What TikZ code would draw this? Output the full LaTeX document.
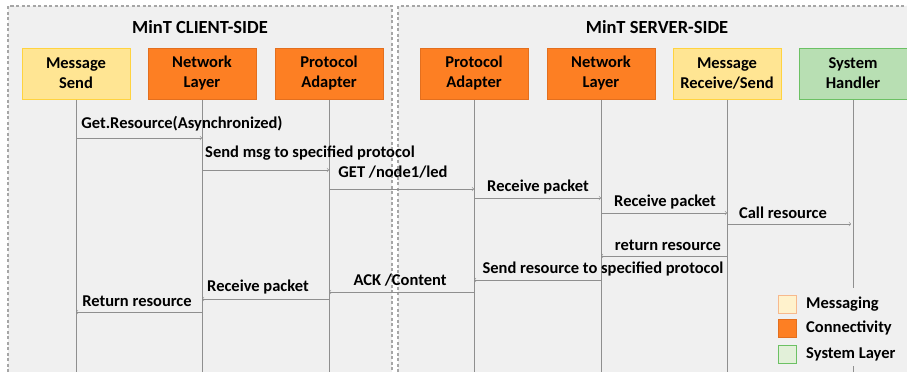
\documentclass[tikz,border=0pt]{standalone}
\usepackage{fontspec}
\setmainfont{Carlito}
\usepackage{tikz}
\usepackage{xcolor}

\definecolor{bg}{HTML}{F0F0F0}
\definecolor{frame}{HTML}{A6A6A6}
\definecolor{wire}{HTML}{8F8F8F}
\definecolor{conn}{HTML}{FD7F23}
\definecolor{connline}{HTML}{E36F1E}
\definecolor{msgfill}{HTML}{FFE593}
\definecolor{msgline}{HTML}{FFD33F}
\definecolor{sysfill}{HTML}{B8DFB3}
\definecolor{sysline}{HTML}{6CC164}
\definecolor{litefill}{HTML}{FFF2CC}
\definecolor{liteline}{HTML}{F7B98D}
\definecolor{greenfill}{HTML}{E2F0D9}

\tikzset{
	box/.style={draw, line width=1pt, minimum width=108pt, minimum height=51pt, align=center, font=\fontsize{16.5}{20}\selectfont\bfseries},
	messaging/.style={box, fill=msgfill, draw=msgline},
	connectivity/.style={box, fill=conn, draw=connline},
	system/.style={box, fill=sysfill, draw=sysline},
	lifeline/.style={draw=wire, line width=0.8pt},
	msg/.style={draw=wire, line width=0.6pt, ->},
	lbl/.style={font=\fontsize{16.5}{19}\selectfont\bfseries, inner sep=0pt},
	side/.style={draw=frame, line width=1.2pt, dash pattern=on 3pt off 2.5pt},
	swatch/.style={draw, line width=0.8pt, minimum size=18pt, inner sep=0pt}
}

\begin{document}
\begin{tikzpicture}[x=1pt, y=-1pt]
	\useasboundingbox (0,0) rectangle (907,372);
	% the two sides
	\fill[bg] (8,6) rectangle (392,372);
	\fill[bg] (398,6) rectangle (907,372);
	\draw[side] (8,372) -- (8,6) -- (392,6) -- (392,372);
	\draw[side] (398,372) -- (398,6) -- (907,6);
	\node[font=\fontsize{18.5}{22}\selectfont\bfseries] (client) at (200,27) {MinT CLIENT-SIDE};
	\node[font=\fontsize{18.5}{22}\selectfont\bfseries] (server) at (657,27) {MinT SERVER-SIDE};

	% participants
	\node[messaging] (cms) at (76,73.5) {Message\\Send};
	\node[connectivity] (cnl) at (202,73.5) {Network\\Layer};
	\node[connectivity] (cpa) at (329,73.5) {Protocol\\Adapter};
	\node[connectivity] (spa) at (474,73.5) {Protocol\\Adapter};
	\node[connectivity] (snl) at (601,73.5) {Network\\Layer};
	\node[messaging] (smr) at (727,73.5) {Message\\Receive/Send};
	\node[system] (ssh) at (853,73.5) {System\\Handler};

	\foreach \p in {cms,cnl,cpa,spa,snl,smr,ssh} {
		\draw[lifeline] (\p.south) -- (\p.south |- 0,372);
	}

	% messages
	\draw[msg] (cms |- 0,138) -- (cnl |- 0,138);
	\node[lbl] (m1) at (182,124) {Get.Resource(Asynchronized)};
	\draw[msg] (cnl |- 0,170) -- (cpa |- 0,170);
	\node[lbl] (m2) at (310,153) {Send msg to specified protocol};
	\draw[msg] (cpa |- 0,189) -- (spa |- 0,189);
	\node[lbl] (m3) at (393,172) {GET /node1/led};
	\draw[msg] (spa |- 0,198) -- (snl |- 0,198);
	\node[lbl] (m4) at (538,187) {Receive packet};
	\draw[msg] (snl |- 0,213) -- (smr |- 0,213);
	\node[lbl] (m5) at (665,202) {Receive packet};
	\draw[msg] (smr |- 0,224) -- ([xshift=-2pt]ssh |- 0,224);
	\node[lbl] (m6) at (783,213) {Call resource};
	\draw[msg] (smr |- 0,256) -- (snl |- 0,256);
	\node[lbl] (m7) at (668,245) {return resource};
	\draw[msg] (snl |- 0,280) -- (spa |- 0,280);
	\node[lbl] (m8) at (603,269) {Send resource to specified protocol};
	\draw[msg] (spa |- 0,292) -- (cpa |- 0,292);
	\node[lbl] (m9) at (400,280) {ACK /Content};
	\draw[msg] (cpa |- 0,299) -- (cnl |- 0,299);
	\node[lbl] (m10) at (258,287) {Receive packet};
	\draw[msg] (cnl |- 0,312) -- (cms |- 0,312);
	\node[lbl] (m11) at (137,301) {Return resource};

	% legend
	\fill[bg] (770,288) rectangle (907,366);
	\node[swatch, fill=litefill, draw=liteline] (lm) at (787,304) {};
	\node[swatch, fill=conn, draw=connline] (lc) at (787,328) {};
	\node[swatch, fill=greenfill, draw=sysline] (ls) at (787,354) {};
	\node[lbl, anchor=west] (tm) at (806,304) {Messaging};
	\node[lbl, anchor=west] (tc) at (806,328) {Connectivity};
	\node[lbl, anchor=west] (ts) at (806,354) {System Layer};
\end{tikzpicture}
\end{document}
